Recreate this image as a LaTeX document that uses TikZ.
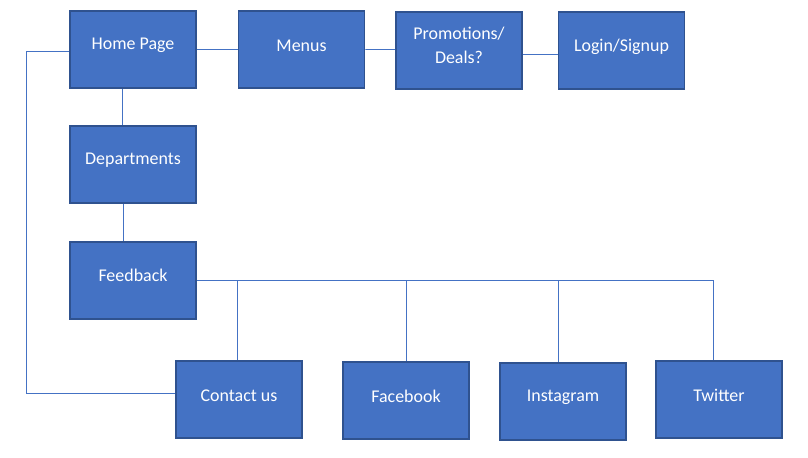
\documentclass[tikz,border=0pt]{standalone}
\usepackage{fontspec}
\setmainfont{Carlito}
\begin{document}
\begin{tikzpicture}[x=1bp,y=-1bp,
  box/.style={draw=boxborder,fill=boxfill,line width=1.6bp,minimum width=126bp,minimum height=77bp,inner sep=0pt},
  lbl/.style={text=white,font=\fontsize{18}{24}\selectfont,align=center,inner sep=0pt},
  conn/.style={draw=linecol,line width=0.9bp}]
\definecolor{boxfill}{HTML}{4472C4}
\definecolor{boxborder}{HTML}{2F528F}
\definecolor{linecol}{HTML}{4472C4}
\useasboundingbox (0,0) rectangle (808,458);
% boxes
\node[box] (home) at (133,49.5) {};
\node[box] (menus) at (301.5,49.5) {};
\node[box] (promo) at (459,50.5) {};
\node[box] (login) at (621.5,50.5) {};
\node[box] (dept) at (133,164.5) {};
\node[box] (feed) at (133,280.5) {};
\node[box] (contact) at (239,399.5) {};
\node[box] (facebook) at (406,400.5) {};
\node[box] (insta) at (563,401.5) {};
\node[box] (twitter) at (719,399.5) {};
% labels
\node[lbl] (thome) at ([yshift=4]home.center) {Home Page};
\node[lbl] (tmenus) at ([yshift=4]menus.center) {Menus};
\node[lbl] (tpromo) at ([yshift=5.5]promo.center) {Promotions/\\Deals?};
\node[lbl] (tlogin) at ([yshift=4]login.center) {Login/Signup};
\node[lbl] (tdept) at ([yshift=4]dept.center) {Departments};
\node[lbl] (tfeed) at ([yshift=5]feed.center) {Feedback};
\node[lbl] (tcontact) at ([yshift=4]contact.center) {Contact us};
\node[lbl] (tfacebook) at ([yshift=4]facebook.center) {Facebook};
\node[lbl] (tinsta) at ([yshift=4]insta.center) {Instagram};
\node[lbl] (ttwitter) at ([yshift=4]twitter.center) {Twitter};
% connectors
\draw[conn] (home.east) -- (menus.west);
\draw[conn] (menus.east) -- ([yshift=1]promo.west);
\draw[conn] ([yshift=-3.5]promo.east) -- ([yshift=-3.5]login.west);
\draw[conn] ([xshift=-10.5]home.south) -- ([xshift=-10.5]dept.north);
\draw[conn] ([xshift=-10]dept.south) -- ([xshift=-10]feed.north);
\coordinate (loopx) at (26,0);
\coordinate (cin) at ([yshift=6.5]contact.west);
\draw[conn] ([yshift=-1.5]home.west) -| (loopx |- cin) -- (cin);
\draw[conn] (feed.east) -| ([xshift=-6]twitter.north);
\draw[conn] ([xshift=-2]contact.north) -- ([xshift=-2]contact.north |- feed.east);
\draw[conn] (facebook.north) -- (facebook.north |- feed.east);
\draw[conn] ([xshift=-5]insta.north) -- ([xshift=-5]insta.north |- feed.east);
\end{tikzpicture}
\end{document}
